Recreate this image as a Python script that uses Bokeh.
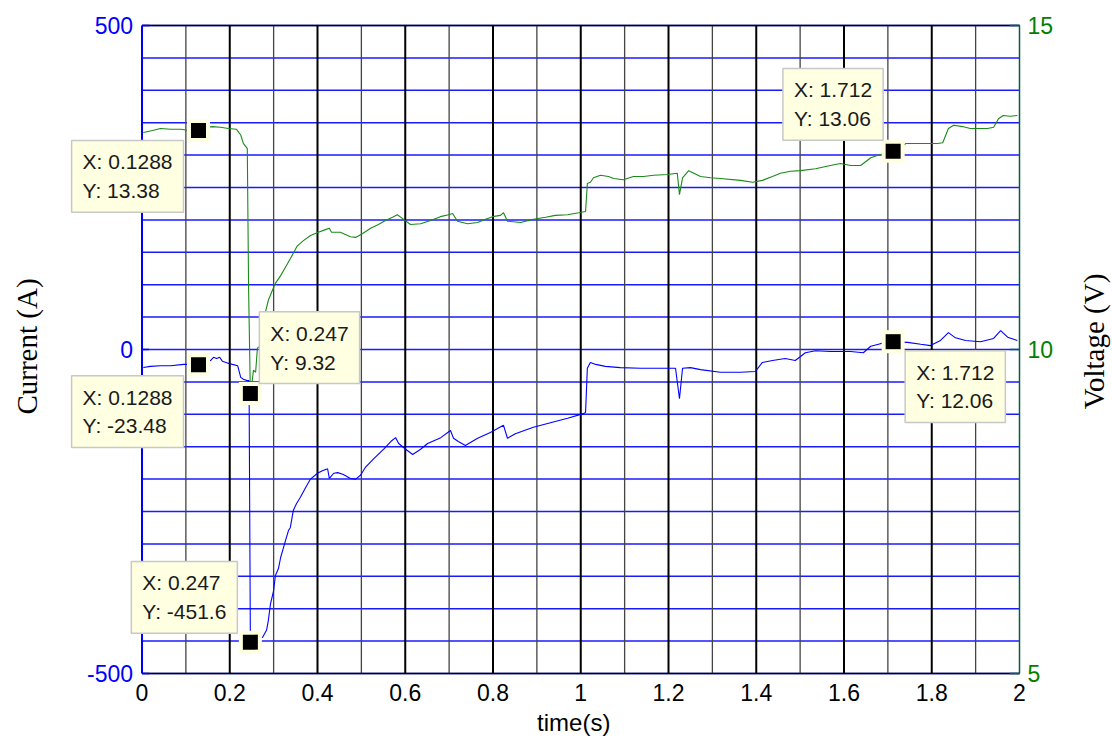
import math
from bokeh.plotting import figure
from bokeh.models import Range1d, Label
from bokeh.core.properties import value
from bokeh.embed import file_html
from bokeh.resources import INLINE

# ---------------- data ----------------
volt_t = [0.003, 0.024, 0.042, 0.065, 0.088, 0.111, 0.1288, 0.145, 0.161, 0.179, 0.197, 0.215,
          0.225, 0.231, 0.238, 0.240, 0.243, 0.247, 0.250, 0.254, 0.259, 0.263, 0.270, 0.275,
          0.281, 0.288, 0.297, 0.304, 0.316, 0.327, 0.338, 0.354, 0.368, 0.384, 0.402, 0.418,
          0.427, 0.432, 0.452, 0.475, 0.487, 0.503, 0.521, 0.539, 0.555, 0.571, 0.582, 0.594,
          0.612, 0.635, 0.658, 0.680, 0.699, 0.708, 0.719, 0.742, 0.765, 0.783, 0.799, 0.817,
          0.824, 0.833, 0.863, 0.892, 0.920, 0.942, 0.970, 0.995, 1.011, 1.015, 1.022, 1.029,
          1.045, 1.063, 1.075, 1.097, 1.120, 1.143, 1.166, 1.198, 1.220, 1.225, 1.232, 1.246,
          1.273, 1.296, 1.318, 1.364, 1.392, 1.414, 1.437, 1.455, 1.478, 1.501, 1.535, 1.569,
          1.592, 1.615, 1.638, 1.661, 1.679, 1.712, 1.729, 1.741, 1.775, 1.813, 1.825, 1.838,
          1.850, 1.870, 1.888, 1.927, 1.941, 1.952, 1.963, 1.979, 1.995]
volt_v = [13.35, 13.38, 13.41, 13.40, 13.40, 13.38, 13.38, 13.43, 13.44, 13.43, 13.41, 13.40,
          13.31, 13.18, 13.12, 13.10, 10.91, 9.32, 9.44, 9.68, 9.65, 10.02, 10.06, 10.40,
          10.57, 10.76, 10.91, 11.02, 11.14, 11.27, 11.40, 11.60, 11.68, 11.76, 11.81, 11.85,
          11.87, 11.81, 11.81, 11.74, 11.73, 11.79, 11.87, 11.93, 11.99, 12.04, 12.08, 12.02,
          11.93, 11.94, 11.99, 12.05, 12.08, 12.10, 11.98, 11.94, 11.96, 12.01, 12.05, 12.07,
          12.11, 11.98, 11.96, 12.01, 12.04, 12.07, 12.08, 12.11, 12.13, 12.56, 12.58, 12.65,
          12.69, 12.67, 12.64, 12.62, 12.67, 12.67, 12.69, 12.70, 12.72, 12.39, 12.65, 12.76,
          12.67, 12.65, 12.64, 12.61, 12.58, 12.61, 12.67, 12.72, 12.75, 12.76, 12.79, 12.84,
          12.87, 12.84, 12.84, 12.96, 13.00, 13.06, 13.12, 13.18, 13.18, 13.18, 13.19, 13.41,
          13.46, 13.44, 13.41, 13.41, 13.43, 13.56, 13.61, 13.60, 13.61]

curr_t = [0.003, 0.019, 0.042, 0.065, 0.095, 0.111, 0.1288, 0.145, 0.156, 0.163, 0.170, 0.177,
          0.183, 0.195, 0.206, 0.218, 0.225, 0.231, 0.240, 0.244, 0.247, 0.275, 0.284, 0.288,
          0.293, 0.300, 0.304, 0.311, 0.316, 0.322, 0.327, 0.334, 0.338, 0.345, 0.352, 0.361,
          0.373, 0.384, 0.400, 0.411, 0.423, 0.427, 0.437, 0.446, 0.459, 0.475, 0.487, 0.498,
          0.509, 0.529, 0.552, 0.567, 0.578, 0.585, 0.601, 0.617, 0.635, 0.651, 0.681, 0.703,
          0.710, 0.721, 0.737, 0.765, 0.794, 0.824, 0.833, 0.851, 0.892, 0.931, 0.970, 1.006,
          1.011, 1.015, 1.022, 1.034, 1.056, 1.090, 1.136, 1.182, 1.216, 1.225, 1.232, 1.250,
          1.273, 1.318, 1.364, 1.398, 1.414, 1.437, 1.466, 1.489, 1.512, 1.535, 1.569, 1.615,
          1.644, 1.661, 1.683, 1.712, 1.745, 1.775, 1.797, 1.820, 1.838, 1.854, 1.877, 1.911,
          1.941, 1.957, 1.973, 1.995]
curr_a = [-27.8, -26, -25, -25, -23, -23, -23.48, -20, -17, -12, -14, -12,
          -18, -21, -23, -25, -43, -46, -48, -48, -451.6, -444, -433, -418,
          -392, -372, -349, -338, -321, -307, -295, -279, -275, -248, -238, -228,
          -213, -200, -191, -187, -184, -199, -191, -190, -193, -199, -200, -194,
          -182, -168, -153, -142, -136, -145, -154, -162, -154, -145, -136, -125,
          -137, -142, -148, -137, -128, -117, -137, -130, -120, -113, -106, -99,
          -97, -29, -20, -23, -26, -28, -29, -29, -29, -76, -29, -28,
          -31, -35, -35, -34, -20, -17, -14, -17, -5, -2, -3, -3,
          -5, 5, 9, 12.06, 11, 8, 6, 14, 26, 18, 14, 12,
          17, 29, 19, 14]

# data tips
tip_volt_t = [0.1288, 0.247, 1.712]
tip_volt_v = [13.38, 9.32, 13.06]
tip_curr_t = [0.1288, 0.247, 1.712]
tip_curr_a = [-23.48, -451.6, 12.06]

# ticks / tick labels
x_ticks = [0, 0.2, 0.4, 0.6, 0.8, 1.0, 1.2, 1.4, 1.6, 1.8, 2.0]
x_minor = [0.1, 0.3, 0.5, 0.7, 0.9, 1.1, 1.3, 1.5, 1.7, 1.9]
x_labels = ["0", "0.2", "0.4", "0.6", "0.8", "1", "1.2", "1.4", "1.6", "1.8", "2"]
i_ticks = [-500, 0, 500]
i_labels = ["-500", "0", "500"]
i_grid = list(range(-500, 501, 50))
v_ticks = [5, 10, 15]
v_labels = ["5", "10", "15"]

# ---------------- layout (pixels) ----------------
W, H = 1112, 740
FL, FR, FT, FB = 141.5, 1019.0, 25.0, 673.0   # plot box inside the canvas

X0, X1 = x_ticks[0], x_ticks[-1]
I0, I1 = i_ticks[0], i_ticks[-1]
V0, V1 = v_ticks[0], v_ticks[-1]
sx = (X1 - X0) / (FR - FL)
si = (I1 - I0) / (FB - FT)
sv = (V1 - V0) / (FB - FT)

BLUE = "#0000FF"
GREEN = "#008000"
AXGREEN = "#006040"
SANS = value("Liberation Sans")
SERIF = value("Liberation Serif")

# the frame fills the canvas so that the data tips may reach beyond the plot box
p = figure(width=W, height=H, output_backend="svg", toolbar_location=None,
           x_range=Range1d(X0 - FL * sx, X1 + (W - FR) * sx),
           y_range=Range1d(I0 - (H - FB) * si, I1 + FT * si),
           x_axis_location=None, y_axis_location=None, title_location=None,
           min_border_left=0, min_border_right=0, min_border_top=0, min_border_bottom=0,
           background_fill_color="white", border_fill_color="white")
p.extra_y_ranges = {"v": Range1d(V0 - (H - FB) * sv, V1 + FT * sv)}
p.outline_line_color = None
p.grid.visible = False

n_g = len(i_grid)
n_mi = len(x_minor)
inner_major = x_ticks[1:-1]
n_ma = len(inner_major)

# grid
p.segment(x0=[X0] * n_g, x1=[X1] * n_g, y0=i_grid, y1=i_grid, line_color="#1a1aff", line_width=1.5)
p.segment(x0=x_minor, x1=x_minor, y0=[I0] * n_mi, y1=[I1] * n_mi, line_color="#444444", line_width=1.3)
p.segment(x0=inner_major, x1=inner_major, y0=[I0] * n_ma, y1=[I1] * n_ma, line_color="black", line_width=2)

# box: top / bottom black, left blue, right green
p.segment(x0=[X0, X0], x1=[X1, X1], y0=[I0, I1], y1=[I0, I1], line_color="black", line_width=1.5)
p.segment(x0=[X0], x1=[X0], y0=[I0], y1=[I1], line_color=BLUE, line_width=2)
p.segment(x0=[X1], x1=[X1], y0=[V0], y1=[V1], line_color=AXGREEN, line_width=1.5, y_range_name="v")

# ticks (pointing inward)
p.ray(x=[X0] * len(i_ticks), y=i_ticks, length=7, length_units="screen", angle=0,
      line_color=BLUE, line_width=1.5)
p.ray(x=[X1] * len(v_ticks), y=v_ticks, length=10, length_units="screen", angle=math.pi,
      line_color=AXGREEN, line_width=1.5, y_range_name="v")

# tick labels
p.text(x=[X0] * len(i_ticks), y=i_ticks, text=i_labels, x_offset=-9,
       text_align="right", text_baseline="middle", text_font=SANS, text_font_size="23px",
       text_color=BLUE)
p.text(x=[X1] * len(v_ticks), y=v_ticks, text=v_labels, x_offset=8, y_range_name="v",
       text_align="left", text_baseline="middle", text_font=SANS, text_font_size="23px",
       text_color=GREEN)
p.text(x=x_ticks, y=[I0] * len(x_ticks), text=x_labels, y_offset=10,
       text_align="center", text_baseline="top", text_font=SANS, text_font_size="23px",
       text_color="black")

# axis labels
XMID = (X0 + X1) / 2
IMID = (I0 + I1) / 2
p.text(x=[XMID], y=[I0], text=["time(s)"], x_offset=-7, y_offset=49,
       text_align="center", text_baseline="middle", text_font=SANS, text_font_size="24px",
       text_color="black")
p.text(x=[X0], y=[IMID], text=["Current (A)"], x_offset=-115.5, y_offset=-3, angle=math.pi / 2,
       text_align="center", text_baseline="middle", text_font=SERIF, text_font_size="29px",
       text_color="black")
p.text(x=[X1], y=[IMID], text=["Voltage (V)"], x_offset=74, y_offset=-8, angle=math.pi / 2,
       text_align="center", text_baseline="middle", text_font=SERIF, text_font_size="29px",
       text_color="black")

# traces
p.line(curr_t, curr_a, line_color=BLUE, line_width=1.1)
p.line(volt_t, volt_v, line_color="#1a8a1a", line_width=1.1, y_range_name="v")

# data-tip markers
TIP_BG = "#FFFFE1"
p.scatter(tip_curr_t, tip_curr_a, marker="square", size=23, fill_color=TIP_BG, line_color=None)
p.scatter(tip_curr_t, tip_curr_a, marker="square", size=15, fill_color="black", line_color=None)
p.scatter(tip_volt_t, tip_volt_v, marker="square", size=23, fill_color=TIP_BG, line_color=None,
          y_range_name="v")
p.scatter(tip_volt_t, tip_volt_v, marker="square", size=15, fill_color="black", line_color=None,
          y_range_name="v")

def fmt(v):
    return "%g" % v

# data-tip boxes: (x, y, range, anchor, x_offset, y_offset)
tips = [
    (tip_volt_t[0], tip_volt_v[0], "v", "top_right", -15, -10),
    (tip_curr_t[0], tip_curr_a[0], "default", "top_right", -15, -11),
    (tip_volt_t[1], tip_volt_v[1], "v", "bottom_left", 9, 10),
    (tip_curr_t[1], tip_curr_a[1], "default", "bottom_right", -13, 9),
    (tip_volt_t[2], tip_volt_v[2], "v", "bottom_right", -10, 11),
    (tip_curr_t[2], tip_curr_a[2], "default", "top_left", 12, -9),
]
for (tx, ty, rng, anc, dx, dy) in tips:
    p.add_layout(Label(x=tx, y=ty, y_range_name=rng, x_offset=dx, y_offset=dy, anchor=anc,
                       text="X: %s\nY: %s" % (fmt(tx), fmt(ty)), text_align="left",
                       text_font="Liberation Sans", text_font_size="21px", text_color="#1a1a1a",
                       text_line_height=1.25, background_fill_color=TIP_BG,
                       background_fill_alpha=1.0, border_line_color="#C8C8C8",
                       border_line_width=1.5, padding=(11, 10)))

open("out.html", "w").write(file_html(p, INLINE))
